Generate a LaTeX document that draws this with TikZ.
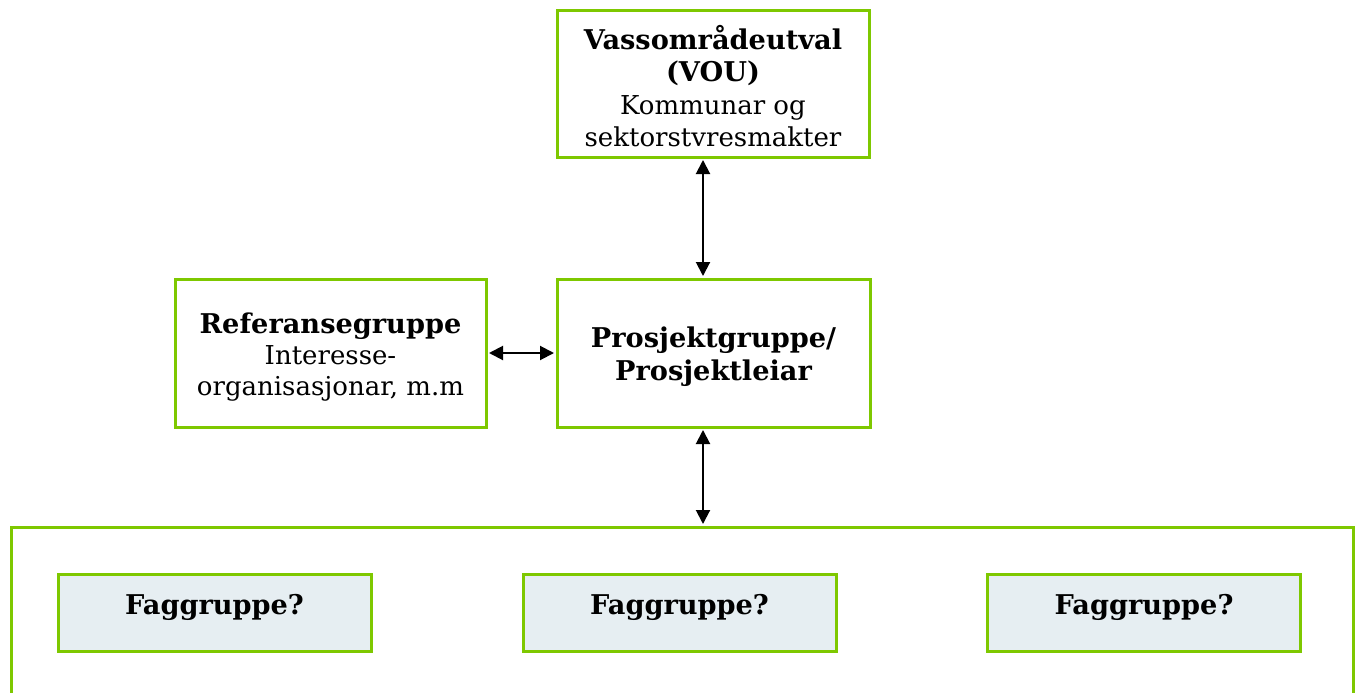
\documentclass[tikz,border=0pt]{standalone}
\usepackage{fontspec}
\setmainfont{DejaVu Serif}
\usetikzlibrary{arrows.meta}
\definecolor{lg}{RGB}{126,200,0}
\definecolor{fg}{RGB}{230,238,242}
\newcommand\bx[1]{{\fontsize{27.2}{33}\selectfont\bfseries #1}}
\newcommand\boxtext[2]{\raisebox{#1}[\height][\depth]{\begin{tabular}{@{}c@{}}#2\end{tabular}}}
\begin{document}
\begin{tikzpicture}[x=1pt,y=-1pt,
  box/.style={draw=lg,line width=3pt,inner sep=0pt,align=center,font=\fontsize{26}{33}\selectfont},
  fag/.style={box,fill=fg,minimum width=313pt,minimum height=77pt},
  conn/.style={{Triangle[length=14pt,width=14pt]}-{Triangle[length=14pt,width=14pt]},line width=2pt,shorten <=1.5pt,shorten >=1.5pt}]
\clip (0,0) rectangle (1357,693);
\fill[white] (0,0) rectangle (1357,693);
\node[box,minimum width=312pt,minimum height=146pt,font=\fontsize{26}{32.5}\selectfont] (vou) at (713,84)
  {\boxtext{-7pt}{\bx{Vassområdeutval}\\\bx{(VOU)}\\Kommunar og\\sektorstvresmakter}};
\node[box,minimum width=313pt,minimum height=148pt,font=\fontsize{26}{32.5}\selectfont] (pro) at (713.5,353)
  {\boxtext{-4.5pt}{\bx{Prosjektgruppe/}\\\bx{Prosjektleiar}}};
\node[box,minimum width=311pt,minimum height=148pt,font=\fontsize{26}{31}\selectfont] (ref) at (330.5,353)
  {\boxtext{-5pt}{\bx{Referansegruppe}\\Interesse-\\organisasjonar, m.m}};
\node[box,minimum width=1342pt,minimum height=300pt] (outer) at (682,677) {};
\node[fag] (f1) at (214.5,612.5) {\boxtext{5pt}{\bx{Faggruppe?}}};
\node[fag] (f2) at (679.5,612.5) {\boxtext{5pt}{\bx{Faggruppe?}}};
\node[fag] (f3) at (1144,612.5) {\boxtext{5pt}{\bx{Faggruppe?}}};
\coordinate (ax) at (703,0);
\draw[conn] (vou.south -| ax) -- (pro.north -| ax);
\draw[conn] (pro.south -| ax) -- (outer.north -| ax);
\draw[conn] (ref.east) -- (pro.west);
\end{tikzpicture}
\end{document}
